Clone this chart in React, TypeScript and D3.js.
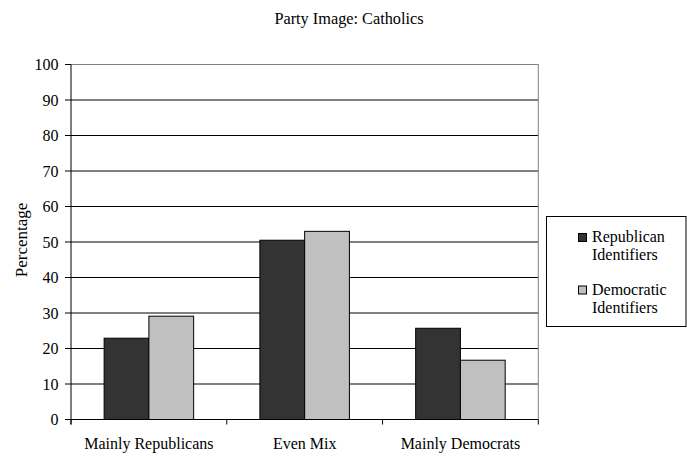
import React from "react";
import * as d3 from "d3";

const categories = ["Mainly Republicans", "Even Mix", "Mainly Democrats"];
const seriesNames = ["Republican Identifiers", "Democratic Identifiers"];
const republican = [22.9, 50.5, 25.7];
const democratic = [29.1, 53.0, 16.7];
const yTicks = [0, 10, 20, 30, 40, 50, 60, 70, 80, 90, 100];
const colors = ["#333333", "#c0c0c0"];

const W = 687;
const H = 456;
const plot = { left: 71, right: 538.3, top: 64.5, bottom: 419.5 };
const fontStyle = { fontFamily: "Liberation Serif" };

export default function App() {
  const x = d3
    .scaleBand<string>()
    .domain(categories)
    .range([plot.left, plot.right])
    .paddingInner(0)
    .paddingOuter(0);
  const inner = d3
    .scaleBand<number>()
    .domain([0, 1])
    .range([0, x.bandwidth()])
    .paddingInner(0)
    .paddingOuter(0.74);
  const y = d3.scaleLinear().domain([0, 100]).range([plot.bottom, plot.top]);
  const series = [republican, democratic];
  const boundaries = d3.range(categories.length + 1).map(
    (i) => plot.left + i * x.bandwidth()
  );

  return (
    <svg
      width={W}
      height={H}
      style={{ position: "absolute", left: 0, top: 0, background: "#fff", ...fontStyle }}
    >
      <text x={349} y={23.5} fontSize={16.3} textAnchor="middle" style={fontStyle}>
        Party Image: Catholics
      </text>

      {/* gridlines */}
      {yTicks.map((t) => (
        <line
          key={"g" + t}
          x1={plot.left}
          x2={plot.right}
          y1={y(t)}
          y2={y(t)}
          stroke="#000"
          strokeWidth={1}
        />
      ))}
      {/* plot border (top and right) */}
      <path
        d={`M${plot.left},${plot.top}H${plot.right}V${plot.bottom}`}
        fill="none"
        stroke="#808080"
        strokeWidth={1}
      />

      {/* bars */}
      {categories.map((c, i) =>
        series.map((s, j) => (
          <rect
            key={c + j}
            x={(x(c) as number) + (inner(j) as number)}
            y={y(s[i])}
            width={inner.bandwidth()}
            height={plot.bottom - y(s[i])}
            fill={colors[j]}
            stroke="#000"
            strokeWidth={1}
          />
        ))
      )}

      {/* y axis */}
      <line
        x1={plot.left}
        x2={plot.left}
        y1={plot.top}
        y2={plot.bottom + 5}
        stroke="#000"
      />
      {yTicks.map((t) => (
        <g key={"t" + t}>
          <line
            x1={plot.left - 6}
            x2={plot.left}
            y1={y(t)}
            y2={y(t)}
            stroke="#000"
          />
          <text
            x={plot.left - 12.5}
            y={y(t) + 5.5}
            fontSize={16}
            textAnchor="end"
            style={fontStyle}
          >
            {t}
          </text>
        </g>
      ))}
      <text
        transform={`translate(26.5,${240}) rotate(-90)`}
        fontSize={17}
        textAnchor="middle"
        style={fontStyle}
      >
        Percentage
      </text>

      {/* x axis */}
      <line
        x1={plot.left}
        x2={plot.right}
        y1={plot.bottom}
        y2={plot.bottom}
        stroke="#000"
      />
      {boundaries.map((b, i) => (
        <line
          key={"b" + i}
          x1={b}
          x2={b}
          y1={plot.bottom}
          y2={plot.bottom + 5}
          stroke="#000"
        />
      ))}
      {categories.map((c) => (
        <text
          key={"l" + c}
          x={(x(c) as number) + x.bandwidth() / 2}
          y={449}
          fontSize={16}
          textAnchor="middle"
          style={fontStyle}
        >
          {c}
        </text>
      ))}

      {/* legend */}
      <rect
        x={546.5}
        y={216.5}
        width={139.5}
        height={110}
        fill="#fff"
        stroke="#000"
        strokeWidth={1}
      />
      {seriesNames.map((n, j) => {
        const [a, b] = n.split(" ");
        const y0 = 242 + j * 52.5;
        return (
          <g key={"lg" + j}>
            <rect
              x={578.5}
              y={y0 - 8.5}
              width={8}
              height={8}
              fill={colors[j]}
              stroke="#000"
            />
            <text x={592} y={y0} fontSize={16} style={fontStyle}>
              {a}
            </text>
            <text x={592} y={y0 + 18} fontSize={16} style={fontStyle}>
              {b}
            </text>
          </g>
        );
      })}
    </svg>
  );
}
